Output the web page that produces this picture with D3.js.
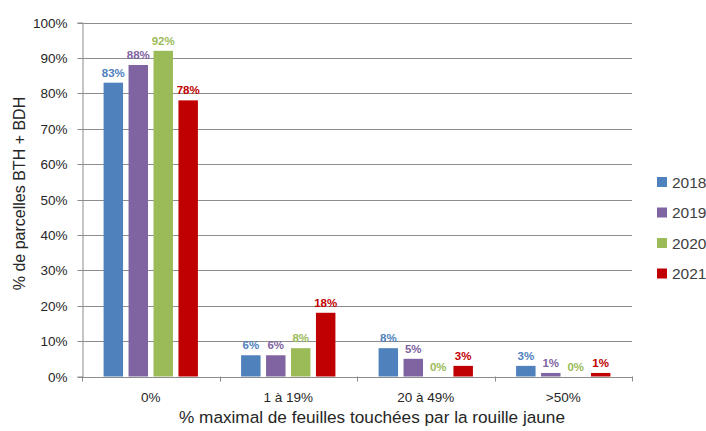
<!DOCTYPE html>
<html>
<head>
<meta charset="utf-8">
<script src="https://cdn.jsdelivr.net/npm/d3@7"></script>
<style>
  html, body { margin: 0; padding: 0; background: #fff; }
  svg { display: block; font-family: "Liberation Sans", Arial, sans-serif; }
</style>
</head>
<body>
<svg id="chart" width="706" height="431"></svg>
<script>
// Share of plots (BTH + BDH) by maximum percentage of leaves hit by yellow rust
const categories = ["0%", "1 à 19%", "20 à 49%", ">50%"];
const years = ["2018", "2019", "2020", "2021"];
const values2018 = [83, 6, 8, 3];
const values2019 = [88, 6, 5, 1];
const values2020 = [92, 8, 0, 0];
const values2021 = [78, 18, 3, 1];
const yTicks = [0, 10, 20, 30, 40, 50, 60, 70, 80, 90, 100];
const colors = ["#4F81BD", "#8064A2", "#9BBB59", "#C00000"];

const seriesValues = [values2018, values2019, values2020, values2021];
const rows = categories.map((c, i) => ({
  category: c,
  bars: years.map((y, j) => ({ year: y, value: seriesValues[j][i], color: colors[j] }))
}));

const svg = d3.select("#chart");
const plot = { left: 82, right: 632, top: 22.5, bottom: 376.5 };
const textColor = "#262626";
const lineColor = "#8c8c8c";

const y = d3.scaleLinear().domain([0, 100]).range([plot.bottom, plot.top]);
const x0 = d3.scaleBand().domain(categories).range([plot.left, plot.right]).padding(0);
const groupW = x0.bandwidth();
const x1 = d3.scaleBand().domain(years)
  .range([groupW * 0.157, groupW * 0.843])
  .paddingInner(0.22).paddingOuter(0);

// horizontal gridlines
svg.append("g")
  .selectAll("line")
  .data(yTicks.filter(t => t > 0))
  .join("line")
  .attr("x1", plot.left).attr("x2", plot.right)
  .attr("y1", d => Math.round(y(d)) + 0.5).attr("y2", d => Math.round(y(d)) + 0.5)
  .attr("stroke", lineColor).attr("stroke-width", 1);

// y axis
const yAxis = svg.append("g")
  .attr("transform", `translate(${plot.left + 0.5},0)`)
  .call(d3.axisLeft(y).tickValues(yTicks).tickFormat(d => d + "%").tickSize(5).tickPadding(10));
yAxis.select(".domain").attr("stroke", lineColor);
yAxis.selectAll(".tick line").attr("stroke", lineColor);
yAxis.selectAll(".tick text")
  .attr("fill", textColor).style("font-size", "13.5px")
  .style("font-family", "'Liberation Sans', Arial, sans-serif");
yAxis.selectAll(".tick").attr("transform", d => `translate(0,${Math.round(y(d)) + 0.5})`);

// bars
const groups = svg.append("g")
  .selectAll("g")
  .data(rows)
  .join("g")
  .attr("transform", d => `translate(${x0(d.category)},0)`);

groups.selectAll("rect")
  .data(d => d.bars)
  .join("rect")
  .attr("x", d => x1(d.year))
  .attr("width", x1.bandwidth())
  .attr("y", d => y(d.value))
  .attr("height", d => plot.bottom - y(d.value))
  .attr("fill", d => d.color);

// value labels
groups.selectAll("text")
  .data(d => d.bars)
  .join("text")
  .attr("x", d => x1(d.year) + x1.bandwidth() / 2)
  .attr("y", d => y(d.value) - 6)
  .attr("text-anchor", "middle")
  .attr("fill", d => d.color)
  .style("font-size", "11.5px")
  .style("font-weight", "bold")
  .text(d => d.value + "%");

// x axis
const xAxis = svg.append("g")
  .attr("transform", `translate(0,${plot.bottom + 0.5})`)
  .call(d3.axisBottom(x0).tickSize(0).tickPadding(15));
xAxis.select(".domain").attr("stroke", lineColor);
xAxis.selectAll(".tick text")
  .attr("fill", textColor).style("font-size", "13.5px")
  .style("font-family", "'Liberation Sans', Arial, sans-serif");

// category separators below the baseline
svg.append("g")
  .selectAll("line")
  .data(categories.concat(["end"]))
  .join("line")
  .attr("x1", (d, i) => Math.round(plot.left + i * groupW) + 0.5)
  .attr("x2", (d, i) => Math.round(plot.left + i * groupW) + 0.5)
  .attr("y1", plot.bottom).attr("y2", plot.bottom + 5)
  .attr("stroke", lineColor);

// axis titles
svg.append("text")
  .attr("x", 372)
  .attr("y", 423)
  .attr("text-anchor", "middle")
  .attr("fill", textColor)
  .style("font-size", "17.2px")
  .text("% maximal de feuilles touchées par la rouille jaune");

svg.append("text")
  .attr("transform", `translate(25,193.5) rotate(-90)`)
  .attr("text-anchor", "middle")
  .attr("fill", textColor)
  .style("font-size", "16px")
  .text("% de parcelles BTH + BDH");

// legend
const legend = svg.append("g")
  .selectAll("g")
  .data(years)
  .join("g")
  .attr("transform", (d, i) => `translate(657,${182 + i * 30.5})`);
legend.append("rect")
  .attr("x", 0).attr("y", -5).attr("width", 10).attr("height", 10)
  .attr("fill", (d, i) => colors[i]);
legend.append("text")
  .attr("x", 15).attr("y", 5.5)
  .attr("fill", "#404040")
  .style("font-size", "15.5px")
  .text(d => d);
</script>
</body>
</html>
